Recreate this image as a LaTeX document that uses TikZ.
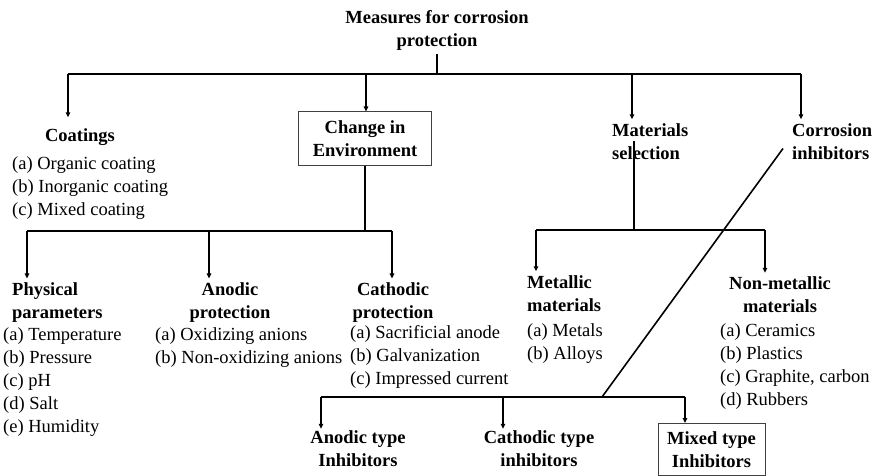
\documentclass[tikz,border=0pt]{standalone}
\usepackage{fontspec}
\setmainfont{Liberation Serif}
\usetikzlibrary{arrows.meta}
\tikzset{
  head/.style={font=\fontsize{18.5}{23}\selectfont\bfseries, inner sep=4pt},
  items/.style={font=\fontsize{18.5}{23}\selectfont, align=left, anchor=north west, inner sep=0pt},
  box/.style={draw=black!75, line width=1pt},
  line/.style={line width=1.6pt},
  arr/.style={line width=1.6pt, -{Triangle[length=5pt,width=4.5pt]}}
}
\begin{document}
\begin{tikzpicture}[x=1pt,y=-1pt]
\useasboundingbox (0,0) rectangle (878,476);
\node(title) at (437,30)[head,align=center]{Measures for corrosion\\protection};
\node(coat) at (80,137)[head,inner ysep=11pt]{Coatings};
\node(env) at (365,138.5)[head,box,align=center,minimum width=133pt,minimum height=53pt,inner sep=2pt]{Change in\\Environment};
\node(mat) at (608,141.5)[head,align=left,anchor=west]{Materials\\selection};
\node(inh) at (788,141.5)[head,align=left,anchor=west]{Corrosion\\inhibitors};
\node(coatl) at (12,156.4)[items]{(a) Organic coating\\(b) Inorganic coating\\(c) Mixed coating};
\node(phys) at (8,302.5)[head,align=left,anchor=west]{Physical\\parameters};
\node(anod) at (230,302.5)[head,align=center]{Anodic\\protection};
\node(cath) at (393,302.5)[head,align=center]{Cathodic\\protection};
\node(physl) at (3,327)[items]{(a) Temperature\\(b) Pressure\\(c) pH\\(d) Salt\\(e) Humidity};
\node(anodl) at (155,327)[items]{(a) Oxidizing anions\\(b) Non-oxidizing anions};
\node(cathl) at (350,325)[items]{(a) Sacrificial anode\\(b) Galvanization\\(c) Impressed current};
\node(metal) at (523,293.5)[head,align=left,anchor=west]{Metallic\\materials};
\node(nonmet) at (780,295)[head,align=center]{Non-metallic\\materials};
\node(metall) at (527,323.4)[items]{(a) Metals\\(b) Alloys};
\node(nonmetl) at (720,323.4)[items]{(a) Ceramics\\(b) Plastics\\(c) Graphite, carbon\\(d) Rubbers};
\node(anin) at (358,449)[head,align=center,inner sep=2pt]{Anodic type\\Inhibitors};
\node(cain) at (539,449)[head,align=center,inner sep=2pt]{Cathodic type\\inhibitors};
\node(mxin) at (711.5,449.5)[head,box,align=center,minimum width=107pt,minimum height=52pt,inner sep=2pt]{Mixed type\\Inhibitors};
% branching points
\coordinate(tm) at (437,74);
\coordinate(b1) at (68,74);
\coordinate(b2) at (366,74);
\coordinate(b3) at (632,74);
\coordinate(b4) at (801,74);
\coordinate(e0) at (365,231);
\coordinate(e1) at (27,231);
\coordinate(e2) at (209,231);
\coordinate(e3) at (392,231);
\coordinate(m0) at (634,230);
\coordinate(m1) at (536,230);
\coordinate(m2) at (765,230);
\coordinate(ib) at (602,397);
\coordinate(i1) at (321,397);
\coordinate(i2) at (503,397);
\coordinate(i3) at (685,397);
\path [line]
  (title.south)  edge  (tm)
  (b1)           edge  (b4)
  (env)          edge  (e0)
  (e1)           edge  (e3)
  (mat.east -| m0) edge (m0)
  (m1)           edge  (m2)
  ([shift={(-5,7)}]inh.west) edge (ib)
  (i1)           edge  (i3);
\path [arr]
  (b1)  edge  (b1 |- coat.north)
  (b2)  edge  (b2 |- env.north)
  (b3)  edge  (b3 |- mat.north)
  (b4)  edge  (b4 |- inh.north)
  (e1)  edge  (e1 |- phys.north)
  (e2)  edge  (e2 |- anod.north)
  (e3)  edge  (e3 |- cath.north)
  (m1)  edge  (m1 |- metal.north)
  (m2)  edge  (m2 |- nonmet.north)
  (i1)  edge  (i1 |- anin.north)
  (i2)  edge  (i2 |- cain.north)
  (i3)  edge  (i3 |- mxin.north);

\end{tikzpicture}
\end{document}
